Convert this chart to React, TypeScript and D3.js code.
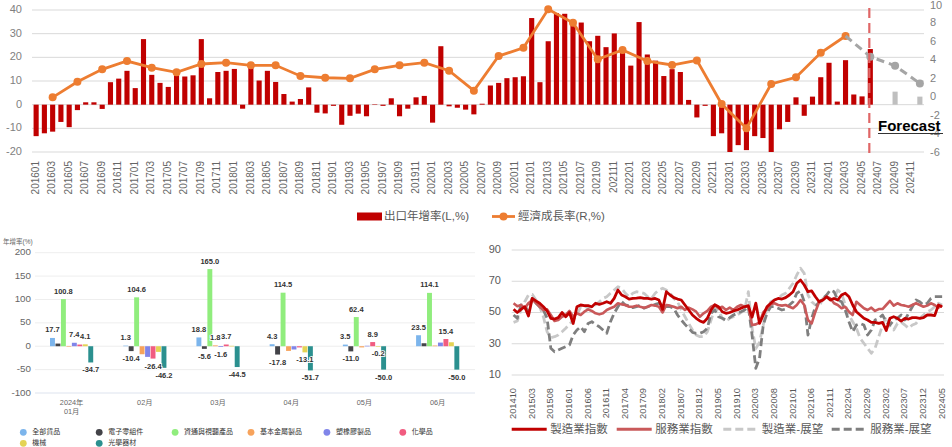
import React from 'react';
import * as d3 from 'd3';

const FONT = '"Liberation Sans", "Noto Sans CJK TC", sans-serif';

function makeMonths(y0: number, m0: number, n: number): string[] {
  const out: string[] = [];
  let y = y0, m = m0;
  for (let i = 0; i < n; i++) {
    out.push(`${y}${m < 10 ? '0' : ''}${m}`);
    m++;
    if (m > 12) { m = 1; y++; }
  }
  return out;
}

// ---------------- Top chart data ----------------
const topMonths = makeMonths(2016, 1, 108);
const exportGrowth = [
  -13.3, -12.1, -11.4, -7.3, -9.5, -2.3, 1.0, 1.0, -1.8, 9.5, 11.0, 14.3,
  7.0, 27.7, 12.6, 9.2, 7.5, 12.4, 11.9, 12.4, 27.7, 2.7, 13.8, 14.3,
  15.1, -1.7, 16.7, 10.2, 14.3, 9.6, 4.5, 1.3, 2.4, 7.3, -3.4, -3.7,
  -0.5, -8.5, -4.7, -3.8, -4.9, 0.2, -0.5, 2.7, -4.9, -1.7, 3.1, 3.7,
  -7.6, 24.7, -0.7, -1.3, -2.1, -4.1, 0.4, 8.1, 9.2, 11.2, 11.6, 12.0,
  36.6, 9.5, 26.8, 38.7, 38.4, 35.1, 34.7, 26.8, 29.1, 24.3, 30.1, 22.2,
  16.5, 34.9, 21.2, 18.6, 12.1, 15.0, 13.8, 2.0, -5.4, -0.5, -13.3, -12.1,
  -21.2, -17.1, -19.2, -13.3, -14.1, -23.4, -10.4, -7.3, 3.1, -4.7, 3.4, 11.6,
  17.7, 1.3, 18.8, 4.3, 3.5, 23.5,
];
const forecastExportMonths = ['202409', '202412'];
const forecastExportValues = [5.5, 3.4];
const gdpMonths = makeMonths(2016, 3, 97).filter((_, i) => i % 3 === 0);
const gdpGrowth = [
  0.0, 1.69, 3.03, 3.93, 3.21, 2.71, 3.61, 3.75, 3.47, 3.47, 2.31, 2.12,
  2.06, 3.03, 3.47, 3.75, 2.88, 0.72, 4.47, 5.37, 9.53, 8.08, 4.12, 5.12,
  3.93, 3.5, 4.0, -0.73, -3.36, 1.44, 2.17, 4.83, 6.64,
];
const gdpForecastMonths = ['202403', '202406', '202409', '202412'];
const gdpForecast = [6.64, 4.4, 3.42, 1.5];
const forecastLineMonth = '202406';
const leftTicks = [-20, -10, 0, 10, 20, 30, 40];
const rightTicks = [-6, -4, -2, 0, 2, 4, 6, 8, 10];

// ---------------- Bottom-left chart data ----------------
const bmCats = [['2024年', '01月'], ['02月'], ['03月'], ['04月'], ['05月'], ['06月']];
const bmSeries = ['全部貨品', '電子零組件', '資通與視聽產品', '基本金屬製品', '塑橡膠製品', '化學品', '機械', '光學器材'];
const bmColors = ['#7cb5ec', '#434348', '#90ed7d', '#f7a35c', '#8085e9', '#f15c80', '#e4d354', '#2b908f'];
const bmAll = [17.7, 1.3, 18.8, 4.3, 3.5, 23.5];
const bmElec = [5.7, -10.4, -5.6, -17.8, -11.0, 6.4];
const bmIct = [100.8, 104.6, 165.0, 114.5, 62.4, 114.1];
const bmMetal = [0.6, -17.1, 1.8, -10.0, -2.5, 1.5];
const bmPlastic = [7.4, -22.8, -1.6, -7.0, 1.0, 7.8];
const bmChem = [3.6, -26.4, 3.7, -2.5, 8.9, 15.4];
const bmMach = [4.1, -12.1, 0.9, -13.1, -0.2, 8.5];
const bmOptic = [-34.7, -46.2, -44.5, -51.7, -50.0, -50.0];
const bmValues = [bmAll, bmElec, bmIct, bmMetal, bmPlastic, bmChem, bmMach, bmOptic];
const bmTicks = [-100, -50, 0, 50, 100, 150, 200];

// ---------------- Bottom-right chart data ----------------
const pmiMonths = makeMonths(2014, 10, 116);
const mfgIndex = [
  52.1, 50.0, 52.0, 53.7, 47.8, 59.0, 57.4, 55.9, 53.7, 51.0,
  46.3, 45.8, 46.7, 50.0, 47.3, 50.0, 43.0, 53.7, 54.8, 54.4,
  54.4, 53.7, 55.9, 55.2, 55.9, 56.9, 55.9, 59.0, 64.4, 61.2,
  60.1, 58.6, 59.0, 59.2, 59.5, 59.0, 59.0, 58.6, 59.0, 58.0,
  52.0, 63.3, 61.2, 59.5, 58.6, 58.0, 54.8, 51.6, 48.4, 46.3,
  44.6, 43.7, 46.3, 51.6, 55.0, 53.7, 50.5, 49.5, 50.0, 51.0,
  51.6, 52.7, 53.7, 54.4, 47.0, 56.0, 43.0, 48.4, 53.7, 55.9,
  58.0, 59.0, 58.6, 59.5, 61.2, 63.3, 68.7, 70.8, 67.6, 63.3,
  63.8, 60.1, 56.9, 58.0, 60.1, 58.0, 59.0, 58.0, 61.2, 62.3,
  60.1, 54.8, 50.5, 48.4, 46.3, 45.2, 43.7, 43.7, 43.0, 43.7,
  38.5, 46.3, 47.3, 46.3, 44.5, 46.3, 45.8, 46.7, 46.7, 46.3,
  46.7, 48.4, 48.4, 48.0, 54.8, 53.7,
];
const svcIndex = [
  55.9, 54.0, 54.8, 52.7, 56.0, 58.0, 56.3, 53.7, 51.6, 52.0,
  48.4, 44.6, 45.2, 47.3, 48.4, 51.0, 47.3, 49.5, 48.4, 50.5,
  52.0, 51.0, 49.5, 48.8, 49.5, 51.6, 52.7, 53.7, 55.9, 55.2,
  54.8, 53.7, 53.7, 54.4, 53.7, 53.1, 53.7, 54.8, 54.4, 53.7,
  50.0, 54.8, 54.4, 53.7, 52.7, 53.7, 51.6, 53.1, 52.0, 50.5,
  47.3, 49.5, 51.0, 53.7, 54.8, 52.7, 53.7, 51.6, 53.1, 51.6,
  53.7, 54.8, 53.7, 53.7, 42.0, 42.4, 43.7, 50.1, 52.7, 55.2,
  55.9, 54.8, 54.4, 54.8, 53.7, 52.7, 54.8, 58.0, 54.8, 45.2,
  43.0, 50.5, 56.9, 58.0, 60.1, 59.0, 55.9, 54.8, 52.7, 53.7,
  50.5, 48.4, 56.9, 54.8, 52.7, 51.6, 53.1, 51.0, 52.2, 52.2,
  54.8, 57.4, 54.4, 55.9, 54.8, 54.4, 53.7, 54.8, 55.9, 54.8,
  53.7, 54.4, 55.9, 54.8, 53.1, 54.4,
];
const mfgOutlook = [
  43.7, 44.6, 51.6, 56.9, 61.2, 61.6, 58.0, 53.7, 47.3, 37.7,
  33.9, 34.5, 35.6, 37.7, 39.9, 42.4, 45.2, 48.4, 53.7, 54.4,
  52.7, 53.7, 54.8, 56.9, 59.0, 60.1, 62.3, 64.4, 66.5, 65.5,
  62.3, 60.1, 62.3, 63.3, 62.9, 62.3, 60.1, 59.0, 62.3, 64.4,
  65.5, 64.4, 62.3, 59.0, 56.9, 51.6, 47.3, 43.0, 38.8, 35.6,
  34.5, 34.5, 37.7, 45.2, 52.7, 51.6, 46.3, 44.1, 46.3, 47.3,
  48.4, 50.0, 51.6, 63.3, 40.0, 27.0, 31.0, 42.0, 52.7, 56.9,
  58.0, 59.0, 61.2, 62.3, 65.5, 68.7, 74.0, 78.3, 75.0, 61.2,
  56.9, 54.8, 53.7, 59.0, 60.1, 58.0, 59.0, 64.4, 62.3, 54.8,
  48.4, 44.1, 39.9, 33.5, 30.3, 27.1, 23.9, 27.1, 34.5, 42.0,
  47.3, 41.3, 38.8, 43.0, 43.7, 42.0, 39.9, 42.0, 43.0, 46.3,
  48.4, 50.5, 51.6, 53.7, 55.9, 54.8,
];
const svcOutlook = [
  48.4, 46.3, 54.8, 54.4, 50.5, 59.0, 56.0, 53.7, 51.6, 46.3,
  27.1, 24.9, 26.0, 27.1, 28.1, 29.2, 35.6, 38.8, 40.9, 37.7,
  43.0, 44.1, 42.4, 40.9, 38.8, 36.7, 44.1, 49.5, 53.7, 56.9,
  54.8, 54.4, 53.1, 53.7, 54.8, 52.7, 53.7, 54.8, 55.2, 55.9,
  54.8, 53.7, 53.7, 52.7, 48.4, 45.2, 42.4, 39.9, 37.3, 36.7,
  36.7, 37.7, 39.9, 49.5, 51.6, 47.3, 46.3, 45.2, 46.7, 48.4,
  49.5, 50.5, 51.6, 53.7, 35.6, 14.3, 20.7, 42.0, 49.5, 53.7,
  53.7, 52.7, 51.6, 52.2, 54.8, 56.9, 62.3, 63.8, 56.9, 35.6,
  46.3, 53.7, 56.9, 59.0, 61.2, 64.4, 63.3, 58.0, 56.9, 51.6,
  44.1, 37.7, 42.0, 43.0, 42.0, 35.6, 38.8, 45.2, 46.3, 48.4,
  44.1, 42.0, 45.2, 46.3, 48.4, 45.2, 49.5, 53.7, 58.0, 56.9,
  54.8, 55.9, 59.0, 60.1, 60.1, 60.1,
];
const pmiNames = ['製造業指數', '服務業指數', '製造業-展望', '服務業-展望'];
const pmiSeries = [mfgIndex, svcIndex, mfgOutlook, svcOutlook];
const pmiTicks = [10, 30, 50, 70, 90];

// ======================================================
function TopChart() {
  const x = d3.scaleBand<string>().domain(topMonths).range([32, 924]);
  const bw = x.bandwidth();
  const cx = (m: string) => (x(m) as number) + bw / 2;
  const yL = d3.scaleLinear().domain([-20, 40]).range([152, 10]).clamp(true);
  const yR = d3.scaleLinear().domain([-6, 10]).range([152.7, 5]);
  const barW = bw * 0.62;
  const exportMonths = topMonths.slice(0, exportGrowth.length);
  const line = d3.line<[string, number]>().x(d => cx(d[0])).y(d => yR(d[1]));
  const gdpPts: [string, number][] = gdpMonths.map((m, i) => [m, gdpGrowth[i]]);
  const fPts: [string, number][] = gdpForecastMonths.map((m, i) => [m, gdpForecast[i]]);
  return (
    <g fontFamily={FONT}>
      {leftTicks.map(t => (
        <g key={t}>
          <line x1={32} x2={924} y1={yL(t)} y2={yL(t)} stroke="#d9d9d9" strokeWidth={1} />
          <text x={22} y={yL(t)} textAnchor="end" dominantBaseline="middle" fontSize={11} fill="#7f7f7f">{t}</text>
        </g>
      ))}
      {rightTicks.map(t => (
        <text key={t} x={930} y={Math.max(yR(t), 6.5)} dominantBaseline="middle" fontSize={11} fill="#7f7f7f">{t}</text>
      ))}
      {exportMonths.map((m, i) => {
        const v = exportGrowth[i];
        const y0 = yL(0), y1 = yL(v);
        return <rect key={m} x={cx(m) - barW / 2} y={Math.min(y0, y1)} width={barW} height={Math.abs(y1 - y0)} fill="#c00000" />;
      })}
      {forecastExportMonths.map((m, i) => {
        const v = forecastExportValues[i];
        const y0 = yL(0), y1 = yL(v);
        return <rect key={m} x={cx(m) - barW / 2} y={Math.min(y0, y1)} width={barW} height={Math.abs(y1 - y0)} fill="#bfbfbf" />;
      })}
      <path d={line(gdpPts) || ''} fill="none" stroke="#ed7d31" strokeWidth={2.8} />
      {gdpPts.map(p => <circle key={p[0]} cx={cx(p[0])} cy={yR(p[1])} r={4} fill="#ed7d31" />)}
      <path d={line(fPts) || ''} fill="none" stroke="#a5a5a5" strokeWidth={3} strokeDasharray="8,5" />
      {fPts.slice(1).map(p => <circle key={p[0]} cx={cx(p[0])} cy={yR(p[1])} r={4} fill="#a5a5a5" />)}
      <line x1={cx(forecastLineMonth) - 1} x2={cx(forecastLineMonth) - 1} y1={8} y2={156} stroke="#e06666" strokeWidth={2.2} strokeDasharray="10,5" />
      <text x={878} y={131} fontSize={15} fontWeight="bold" fill="#000" fontFamily='"Liberation Sans", Arial, sans-serif'>Forecast</text>
      <line x1={878} x2={943} y1={133.5} y2={133.5} stroke="#333" strokeWidth={1} />
      {topMonths.map((m, i) => i % 2 === 0 ? (
        <text key={m} transform={`translate(${cx(m)},161) rotate(-90)`} textAnchor="end" dominantBaseline="middle" fontSize={10} fill="#666">{m}</text>
      ) : null)}
      {/* legend */}
      <rect x={357} y={212.5} width={25} height={8} fill="#c00000" />
      <text x={384} y={217} dominantBaseline="middle" fontSize={11.5} fill="#595959">出口年增率(L,%)</text>
      <line x1={492} x2={515} y1={216.5} y2={216.5} stroke="#ed7d31" strokeWidth={2.8} />
      <circle cx={503.5} cy={216.5} r={4} fill="#ed7d31" />
      <text x={518} y={217} dominantBaseline="middle" fontSize={11.5} fill="#595959">經濟成長率(R,%)</text>
    </g>
  );
}

// ======================================================
function BottomLeft() {
  const catKeys = bmCats.map(c => c.join(''));
  const x0 = d3.scaleBand<string>().domain(catKeys).range([35, 474.3]);
  const groupW = x0.bandwidth() * 0.59;
  const x1 = d3.scaleBand<string>().domain(bmSeries).range([0, groupW]).paddingInner(0.1);
  const y = d3.scaleLinear().domain([-100, 200]).range([393, 252.7]);
  const fs = 7.5;
  const charW = (ch: string) => (ch === '.' ? 0.278 : ch === '-' ? 0.333 : 0.556) * fs;
  type Lab = { x: number; y: number; w: number; h: number; t: string; v: number; k: string };
  const labs: Lab[] = [];
  const bars: JSX.Element[] = [];
  catKeys.forEach((c, ci) => {
    const gx = (x0(c) as number) + x0.bandwidth() / 2 - groupW / 2;
    bmSeries.forEach((s, si) => {
      const v = bmValues[si][ci];
      const bx = gx + (x1(s) as number);
      const y0 = y(0), yv = y(v);
      bars.push(<rect key={c + s} x={bx} y={Math.min(y0, yv)} width={x1.bandwidth()} height={Math.max(0.6, Math.abs(yv - y0))} fill={bmColors[si]} />);
      const t = v.toFixed(1);
      const w = t.split('').reduce((a, ch) => a + charW(ch), 0);
      const ly = v >= 0 ? yv - 7.5 : yv + 8;
      labs.push({ x: bx + x1.bandwidth() / 2, y: ly, w, h: 9, t, v, k: c + s });
    });
  });
  const sorted = [...labs].sort((a, b) => Math.abs(b.v) - Math.abs(a.v));
  const shown: Lab[] = [];
  sorted.forEach(l => {
    const ov = shown.some(o => Math.abs(o.x - l.x) < (o.w + l.w) / 2 && Math.abs(o.y - l.y) < (o.h + l.h) / 2);
    if (!ov) shown.push(l);
  });
  return (
    <g fontFamily={FONT}>
      <text x={3} y={242} fontSize={6.5} fill="#666" dominantBaseline="middle">年增率(%)</text>
      {bmTicks.map(t => (
        <g key={t}>
          <line x1={35} x2={475} y1={y(t)} y2={y(t)} stroke={t === -100 ? '#dde3ee' : '#eeeeee'} strokeWidth={1} />
          <text x={31} y={y(t)} textAnchor="end" dominantBaseline="middle" fontSize={9.8} fill="#666">{t}</text>
        </g>
      ))}
      {bars}
      {shown.map(l => (
        <text key={l.k} x={l.x} y={l.y} textAnchor="middle" dominantBaseline="middle" fontSize={fs} fontWeight="bold" fill="#333" stroke="#fff" strokeWidth={1.6} paintOrder="stroke">{l.t}</text>
      ))}
      {bmCats.map((c, ci) => (
        <text key={ci} x={(x0(catKeys[ci]) as number) + x0.bandwidth() / 2} y={403} textAnchor="middle" dominantBaseline="middle" fontSize={7.3} fill="#666">
          {c.map((ln, li) => <tspan key={li} x={(x0(catKeys[ci]) as number) + x0.bandwidth() / 2} dy={li === 0 ? 0 : 9}>{ln}</tspan>)}
        </text>
      ))}
      {bmSeries.map((s, si) => {
        const lx = 23.3 + (si % 6) * 75.9;
        const ly = 432.3 + Math.floor(si / 6) * 11;
        return (
          <g key={s}>
            <circle cx={lx} cy={ly} r={3.4} fill={bmColors[si]} />
            <text x={lx + 9} y={ly} dominantBaseline="middle" fontSize={7} fill="#333">{s}</text>
          </g>
        );
      })}
    </g>
  );
}

// ======================================================
function BottomRight() {
  const x = d3.scaleBand<string>().domain(pmiMonths).range([511.7, 944]);
  const cx = (m: string) => (x(m) as number) + x.bandwidth() / 2;
  const y = d3.scaleLinear().domain([10, 90]).range([375, 250]);
  const colors = ['#c00000', '#c9595a', '#c8c8c8', '#7f7f7f'];
  const dashes = [undefined, undefined, '8,4', '8,4'];
  const widths = [2.8, 2.6, 2.8, 2.8];
  const order = [2, 3, 1, 0];
  const line = d3.line<number>().x((_, i) => cx(pmiMonths[i])).y(d => y(d));
  const legX = [511.7, 616.7, 723.3, 831.7];
  return (
    <g fontFamily={FONT}>
      {pmiTicks.map(t => (
        <g key={t}>
          <line x1={511.7} x2={944} y1={y(t)} y2={y(t)} stroke="#d9d9d9" strokeWidth={1} />
          <text x={501} y={y(t)} textAnchor="end" dominantBaseline="middle" fontSize={11} fill="#595959">{t}</text>
        </g>
      ))}
      {order.map(si => (
        <path key={si} d={line(pmiSeries[si]) || ''} fill="none" stroke={colors[si]} strokeWidth={widths[si]} strokeDasharray={dashes[si]} strokeLinejoin="round" />
      ))}
      {pmiMonths.map((m, i) => i % 5 === 0 ? (
        <text key={m} transform={`translate(${cx(m)},388) rotate(-90)`} textAnchor="end" dominantBaseline="middle" fontSize={9.3} fill="#595959">{m}</text>
      ) : null)}
      {pmiNames.map((n, i) => (
        <g key={n}>
          <line x1={legX[i]} x2={legX[i] + 35} y1={429.3} y2={429.3} stroke={colors[i]} strokeWidth={3} strokeDasharray={dashes[i]} />
          <text x={legX[i] + 38.5} y={430} dominantBaseline="middle" fontSize={11.5} fill="#595959">{n}</text>
        </g>
      ))}
    </g>
  );
}

export default function App() {
  return (
    <svg width={952} height={447} style={{ position: 'absolute', left: 0, top: 0, background: '#fff' }}>
      <rect width={952} height={447} fill="#fff" />
      <TopChart />
      <BottomLeft />
      <BottomRight />
    </svg>
  );
}
